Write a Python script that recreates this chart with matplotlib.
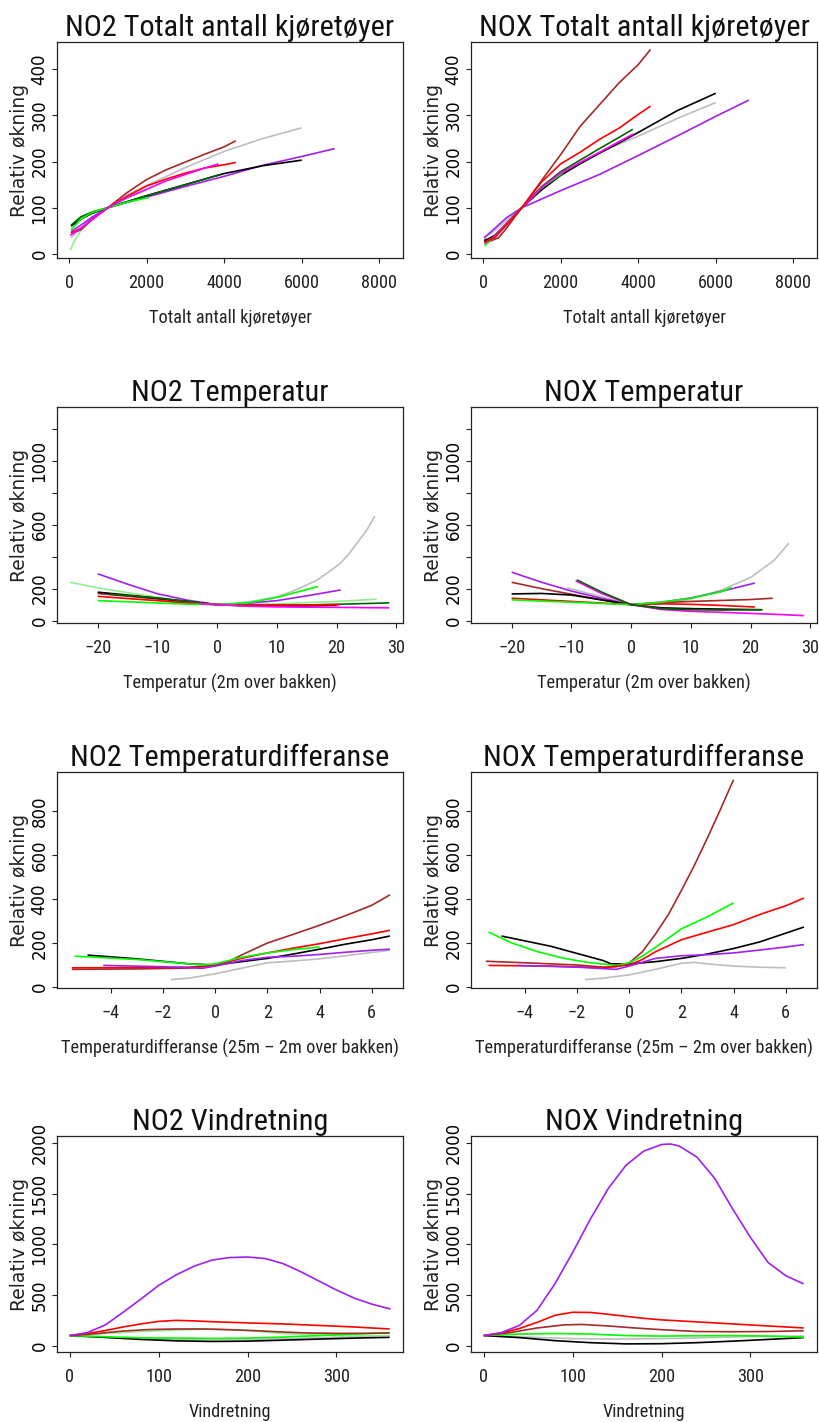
import os
import matplotlib
matplotlib.use("Agg")
import matplotlib.pyplot as plt
from matplotlib import font_manager as fm
from matplotlib.font_manager import FontProperties

WIDE = ["DejaVu Sans"]
plt.rcParams["font.family"] = ["Liberation Sans", "DejaVu Sans"]
plt.rcParams["axes.unicode_minus"] = True


def pick_narrow_font():
    # the reference uses a condensed Helvetica for horizontal text
    prefs = ["liberationsansnarrow-regular", "robotocondensed-regular",
             "notosans-condensed.", "opensans-condensed", "opensans_condensed-regular",
             "dejavusanscondensed."]
    entries = fm.fontManager.ttflist
    for key in prefs:
        for f in entries:
            if os.path.basename(f.fname).lower().startswith(key):
                return f.fname
    for f in entries:
        base = os.path.basename(f.fname).lower()
        if (("narrow" in base or "condensed" in base) and "mono" not in base
                and "serif" not in base and f.style == "normal" and f.weight in (400, "normal", "regular")):
            return f.fname
    return None


narrow_path = pick_narrow_font()
NARROW_FP = FontProperties(fname=narrow_path) if narrow_path else FontProperties(family="Liberation Sans")

COLORS = {
    "black": "#000000", "red": "#FF0000", "green": "#00FF00",
    "darkgreen": "#006400", "brown": "#A52A2A", "gray": "#BEBEBE",
    "purple": "#A020F0", "magenta": "#FF00FF", "lightgreen": "#90EE90",
}

YLABEL = "Relativ økning"

# ---- NO2 / NOX vs total number of vehicles ----
no2_traffic = {
    "lightgreen": ([30, 150, 300, 600, 1000, 1500, 2000], [8, 30, 50, 75, 100, 120, 138]),
    "gray": ([50, 300, 600, 1000, 1500, 2000, 3000, 4000, 5000, 6000], [35, 55, 78, 100, 128, 148, 187, 222, 250, 273]),
    "brown": ([50, 300, 600, 1000, 1500, 2000, 2500, 3000, 3500, 4000, 4300], [45, 52, 75, 100, 133, 161, 182, 199, 216, 232, 245]),
    "purple": ([50, 300, 600, 1000, 2000, 3000, 4000, 5000, 6000, 6850], [48, 62, 80, 100, 123, 146, 168, 192, 211, 228]),
    "black": ([50, 300, 600, 1000, 1500, 2000, 3000, 4000, 5000, 6000], [60, 75, 88, 100, 113, 126, 150, 174, 191, 203]),
    "darkgreen": ([50, 300, 600, 1000, 1500, 2000, 3000, 3900], [62, 80, 91, 100, 113, 126, 150, 172]),
    "green": ([50, 300, 600, 1000, 1500, 2050], [52, 75, 90, 100, 112, 122]),
    "red": ([50, 300, 600, 1000, 1500, 2000, 2500, 3000, 3500, 4000, 4300], [45, 55, 75, 100, 125, 147, 162, 175, 186, 193, 198]),
    "magenta": ([30, 300, 600, 1000, 1500, 2000, 2500, 3000, 3500, 3850], [40, 55, 75, 100, 122, 140, 158, 172, 186, 195]),
}

nox_traffic = {
    "gray": ([30, 300, 600, 1000, 1500, 2000, 3000, 4000, 5000, 6000], [35, 50, 72, 100, 140, 172, 220, 255, 293, 328]),
    "brown": ([30, 200, 400, 600, 800, 1000, 1500, 2000, 2500, 3000, 3500, 4000, 4318], [32, 28, 35, 55, 78, 100, 158, 215, 276, 323, 370, 410, 443]),
    "black": ([30, 300, 600, 1000, 1500, 2000, 2500, 3000, 3500, 4000, 5000, 6000], [28, 40, 65, 100, 138, 170, 195, 218, 240, 263, 310, 348]),
    "purple": ([30, 300, 600, 1000, 2000, 3000, 4000, 5000, 6000, 6850], [35, 55, 78, 100, 137, 172, 213, 255, 298, 333]),
    "green": ([40, 300, 600, 1000, 1500, 2050], [17, 38, 66, 100, 142, 175]),
    "darkgreen": ([30, 300, 600, 1000, 1500, 2000, 2500, 3000, 3500, 3860], [25, 38, 65, 100, 145, 178, 203, 228, 252, 270]),
    "magenta": ([30, 300, 600, 1000, 1500, 2000, 2500, 3000, 3500, 3880], [22, 38, 65, 100, 143, 175, 198, 220, 243, 260]),
    "red": ([30, 300, 600, 1000, 1500, 2000, 2500, 3000, 3500, 4000, 4318], [25, 35, 62, 100, 155, 195, 220, 248, 272, 302, 320]),
}

# ---- temperature ----
no2_temp = {
    "gray": ([-8, -4, 0, 3, 6.6, 10, 12.2, 14.5, 16.6, 18.5, 20.5, 22, 23.3, 25, 26.4],
             [112, 104, 100, 108, 125, 150, 178, 215, 251, 300, 355, 415, 480, 564, 655]),
    "lightgreen": ([-24.6, -20, -15, -10, -5, 0, 5, 10, 15, 20, 26.7], [240, 205, 175, 146, 120, 100, 100, 105, 112, 120, 134]),
    "purple": ([-20, -15, -10, -5, 0, 5, 10, 15, 20.7], [293, 228, 168, 128, 100, 108, 125, 155, 192]),
    "brown": ([-20, -10, 0, 10, 20], [170, 135, 100, 97, 97]),
    "black": ([-20, -15, -10, -5, 0, 5, 10, 15, 20], [178, 160, 140, 120, 100, 92, 90, 92, 96]),
    "darkgreen": ([-18, -10, -5, 0, 5, 10, 15, 20, 25, 28.8], [165, 142, 120, 100, 95, 95, 98, 102, 107, 111]),
    "red": ([-20, -15, -10, -5, 0, 5, 10, 15, 20.5], [152, 138, 125, 110, 100, 97, 97, 98, 100]),
    "green": ([-20, -15, -10, -5, 0, 5, 10, 12.2, 15, 16.9], [125, 118, 110, 103, 100, 110, 145, 167, 195, 213]),
    "magenta": ([-3, 0, 5, 10, 15, 20, 25, 28.8], [105, 100, 90, 86, 84, 83, 81, 80]),
}

nox_temp = {
    "gray": ([-10.7, -5, 0, 5, 10, 15, 20, 24, 26.4], [205, 150, 100, 105, 135, 190, 270, 380, 485]),
    "purple": ([-20, -15, -10, -5, 0, 5, 10, 15, 20.7], [303, 240, 185, 140, 100, 115, 142, 182, 235]),
    "brown": ([-20, -15, -10, -5, 0, 5, 10, 15, 20, 23.7], [240, 200, 165, 130, 100, 112, 120, 126, 132, 140]),
    "black": ([-20, -15, -10, -5, 0, 5, 10, 15, 21.8], [167, 170, 160, 130, 100, 80, 75, 72, 68]),
    "red": ([-20, -15, -10, -5, 0, 5, 10, 15, 20.7], [140, 130, 120, 110, 100, 105, 102, 95, 85]),
    "green": ([-20, -15, -10, -5, 0, 5, 10, 15, 16.8], [130, 122, 115, 107, 100, 115, 140, 180, 208]),
    "magenta": ([-9.3, -5, 0, 5, 10, 15, 20, 25, 28.9], [250, 170, 100, 70, 58, 52, 45, 38, 31]),
    "darkgreen": ([-9.1, -5, 0, 5, 10, 15, 22], [255, 180, 100, 75, 68, 66, 68]),
}

# ---- temperature difference ----
no2_tdiff = {
    "gray": ([-1.7, -1, 0, 1, 2, 3, 4, 5, 6, 6.7], [33, 40, 60, 85, 110, 118, 128, 142, 157, 167]),
    "brown": ([-5.5, -3, -1, 0, 0.5, 1, 2, 3, 4, 5, 6, 6.7], [80, 82, 86, 97, 115, 145, 200, 240, 281, 325, 372, 420]),
    "black": ([-4.9, -3, -1, 0, 1, 2, 3, 4, 5, 6, 6.7], [145, 128, 105, 100, 115, 130, 150, 172, 195, 215, 232]),
    "red": ([-5.5, -3, -1, 0, 1, 2, 3, 4, 5, 6, 6.7], [87, 88, 90, 100, 130, 155, 177, 197, 220, 242, 258]),
    "green": ([-5.4, -3, -1, -0.5, 0, 1, 2, 3, 4], [140, 125, 105, 100, 105, 135, 155, 170, 182]),
    "purple": ([-4.3, -2, -0.5, 0, 1, 2, 3, 4, 5, 6, 6.7], [98, 92, 85, 95, 120, 135, 140, 148, 158, 167, 172]),
}

nox_tdiff = {
    "gray": ([-1.7, -1, 0, 1, 2, 2.5, 3, 4, 5, 6], [33, 40, 55, 80, 108, 112, 105, 95, 90, 87]),
    "brown": ([-5.5, -4, -2, -1, -0.5, 0, 0.5, 1, 1.5, 2, 2.5, 3, 3.5, 4],
              [117, 110, 100, 90, 92, 110, 160, 240, 330, 440, 555, 680, 810, 945]),
    "black": ([-4.9, -3, -1, -0.7, 0, 1, 2, 3, 4, 5, 6, 6.7], [232, 185, 120, 105, 105, 115, 130, 150, 175, 205, 245, 273]),
    "green": ([-5.4, -4.5, -3.5, -2.5, -1.5, -0.5, 0, 0.5, 1, 2, 3, 4],
              [250, 200, 160, 130, 110, 98, 110, 140, 180, 265, 320, 383]),
    "red": ([-5.4, -3, -1, 0, 0.5, 1, 2, 3, 4, 5, 6, 6.7], [98, 95, 88, 100, 125, 160, 215, 250, 284, 330, 370, 405]),
    "purple": ([-4.3, -2, -0.5, 0, 1, 2, 3, 4, 5, 6, 6.7], [98, 90, 80, 95, 130, 142, 147, 155, 168, 182, 193]),
}

# ---- wind direction ----
no2_wind = {
    "gray": ([0, 50, 100, 150, 200, 250, 300, 360], [100, 80, 65, 60, 62, 70, 85, 95]),
    "black": ([0, 40, 80, 120, 160, 200, 240, 280, 320, 360], [100, 82, 62, 48, 42, 45, 55, 65, 75, 83]),
    "lightgreen": ([0, 40, 80, 120, 160, 200, 240, 280, 320, 360], [100, 120, 140, 155, 165, 150, 120, 105, 100, 100]),
    "green": ([0, 40, 80, 120, 160, 200, 240, 280, 320, 360], [100, 88, 78, 75, 73, 75, 85, 100, 115, 130]),
    "brown": ([0, 30, 60, 90, 120, 150, 180, 210, 240, 270, 300, 330, 360],
              [100, 120, 145, 160, 165, 165, 158, 148, 135, 125, 122, 122, 125]),
    "red": ([0, 20, 40, 60, 80, 100, 120, 140, 160, 200, 240, 280, 320, 360],
            [100, 120, 150, 185, 215, 240, 250, 245, 237, 225, 215, 200, 185, 165]),
    "purple": ([0, 20, 40, 60, 80, 100, 120, 140, 160, 180, 200, 220, 240, 260, 280, 300, 320, 340, 361],
               [100, 130, 205, 330, 460, 595, 700, 785, 845, 870, 875, 860, 810, 730, 640, 550, 470, 410, 362]),
}

nox_wind = {
    "gray": ([0, 50, 100, 150, 200, 250, 300, 360], [100, 85, 70, 65, 70, 80, 90, 95]),
    "black": ([0, 40, 80, 120, 160, 200, 240, 280, 320, 360], [100, 80, 50, 30, 18, 20, 30, 45, 62, 80]),
    "green": ([0, 40, 80, 120, 160, 200, 240, 280, 320, 360], [100, 115, 120, 115, 100, 95, 98, 100, 95, 85]),
    "brown": ([0, 30, 60, 90, 110, 140, 170, 200, 240, 280, 320, 360],
              [100, 130, 175, 205, 210, 195, 175, 158, 140, 138, 140, 147]),
    "red": ([0, 20, 40, 60, 80, 100, 120, 140, 160, 180, 200, 240, 280, 320, 360],
            [100, 125, 170, 230, 300, 330, 328, 310, 290, 270, 255, 235, 215, 195, 175]),
    "purple": ([0, 20, 40, 60, 80, 100, 120, 140, 160, 180, 200, 210, 220, 240, 260, 280, 300, 320, 340, 360],
               [100, 130, 200, 350, 610, 920, 1250, 1550, 1780, 1920, 1985, 1990, 1970, 1860, 1650, 1350, 1070, 820, 690, 610]),
}

# ---- panel definitions ----
traffic_xticks = [0, 2000, 4000, 6000, 8000]
traffic_yticks = [0, 100, 200, 300, 400]
temp_xticks = [-20, -10, 0, 10, 20, 30]
temp_yticks = [0, 200, 400, 600, 800, 1000, 1200]
temp_ylabels = ["0", "200", "", "600", "", "1000", ""]
tdiff_xticks = [-4, -2, 0, 2, 4, 6]
tdiff_yticks = [0, 200, 400, 600, 800]
wind_xticks = [0, 100, 200, 300]
wind_yticks = [0, 500, 1000, 1500, 2000]

panels = [
    ("NO2 Totalt antall kjøretøyer", "Totalt antall kjøretøyer", no2_traffic,
     (-312, 8610), (-9, 459), traffic_xticks, traffic_yticks, None),
    ("NOX Totalt antall kjøretøyer", "Totalt antall kjøretøyer", nox_traffic,
     (-312, 8610), (-9, 459), traffic_xticks, traffic_yticks, None),
    ("NO2 Temperatur", "Temperatur (2m over bakken)", no2_temp,
     (-26.8, 31.1), (-15, 1337), temp_xticks, temp_yticks, temp_ylabels),
    ("NOX Temperatur", "Temperatur (2m over bakken)", nox_temp,
     (-26.8, 31.1), (-15, 1337), temp_xticks, temp_yticks, temp_ylabels),
    ("NO2 Temperaturdifferanse", "Temperaturdifferanse (25m \u2013 2m over bakken)", no2_tdiff,
     (-6.07, 7.2), (-5, 980), tdiff_xticks, tdiff_yticks, None),
    ("NOX Temperaturdifferanse", "Temperaturdifferanse (25m \u2013 2m over bakken)", nox_tdiff,
     (-6.07, 7.2), (-5, 980), tdiff_xticks, tdiff_yticks, None),
    ("NO2 Vindretning", "Vindretning", no2_wind,
     (-14.4, 375), (-62, 2069), wind_xticks, wind_yticks, None),
    ("NOX Vindretning", "Vindretning", nox_wind,
     (-14.4, 375), (-62, 2069), wind_xticks, wind_yticks, None),
]

W, H = 820, 1422
fig = plt.figure(figsize=(W / 100, H / 100), dpi=100)

# size the condensed font from the width of the first title in the reference (~298 px)
renderer = fig.canvas.get_renderer()
probe = fig.text(0, 0, panels[0][0], fontproperties=NARROW_FP, fontsize=20)
probe_w = probe.get_window_extent(renderer).width
probe.remove()
base_size = 20 * 298 / probe_w
title_size = min(23, base_size * 1.1)
small_size = min(14.5, base_size * 13.2 / 21.5 * 1.08)

col_left = [57, 471]
row_top = [42, 407, 772, 1136]
ax_w, ax_h = 346, 216

for i, (title, xlabel, curves, xlim, ylim, xt, yt, ytl) in enumerate(panels):
    r, c = divmod(i, 2)
    ax = fig.add_axes([col_left[c] / W, 1 - (row_top[r] + ax_h) / H, ax_w / W, ax_h / H])
    for name, (xs, ys) in curves.items():
        ax.plot(xs, ys, color=COLORS[name], lw=1.2, solid_capstyle="butt")
    ax.set_xlim(*xlim)
    ax.set_ylim(*ylim)
    ax.set_xticks(xt)
    ax.set_yticks(yt)
    if ytl is not None:
        ax.set_yticklabels(ytl)
    for sp in ax.spines.values():
        sp.set_linewidth(0.9)
        sp.set_color("#222222")
    ax.tick_params(axis="both", direction="out", length=3.6, width=0.8, color="#222222")
    ax.tick_params(axis="x", pad=8)
    ax.tick_params(axis="y", labelsize=12, pad=2.5)
    for lab in ax.get_xticklabels():
        lab.set_fontproperties(NARROW_FP)
        lab.set_fontsize(small_size)
        lab.set_color("#222222")
    for lab in ax.get_yticklabels():
        lab.set_rotation(90)
        lab.set_family(WIDE)
        lab.set_va("center")
        lab.set_ha("right")
    ax.set_title(title, fontproperties=NARROW_FP, fontsize=title_size, pad=0, color="#111111")
    ax.set_xlabel(xlabel, fontproperties=NARROW_FP, fontsize=small_size, labelpad=12, color="#222222")
    ax.set_ylabel(YLABEL, fontsize=13.5, family=WIDE, labelpad=1, color="#222222")

fig.savefig("out.png", dpi=100)
